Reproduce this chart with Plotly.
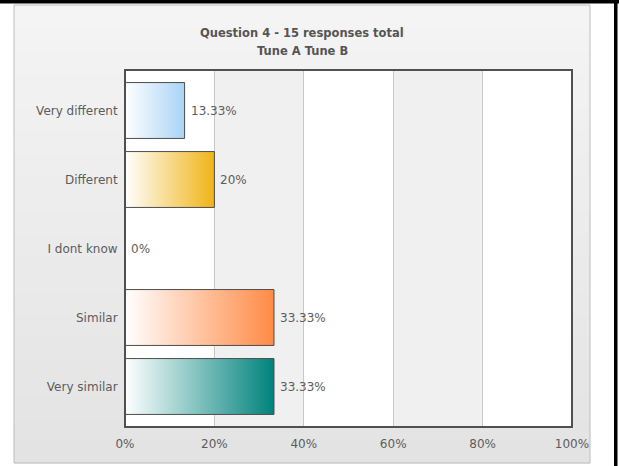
import plotly.graph_objects as go

# Survey results for question 4
categories = ["Very different", "Different", "I dont know", "Similar", "Very similar"]
percentages = [13.33, 20, 0, 33.33, 33.33]
value_labels = ["13.33%", "20%", "0%", "33.33%", "33.33%"]
bar_colors = ["#a9d3f5", "#f0b416", "#ffffff", "#ff8a45", "#00827c"]
x_ticks = [0, 20, 40, 60, 80, 100]
x_tick_labels = ["0%", "20%", "40%", "60%", "80%", "100%"]
title_lines = ["Question 4 - 15 responses total", "Tune A Tune B"]

W, H = 619, 466
L, R, T, B = 125, 572, 70, 427      # plot area in pixels
BAR_HALF = 0.405                     # half bar thickness in category units
TEXT_FONT = "DejaVu Sans, Verdana, sans-serif"
TEXT_COLOR = "#5c5c5c"
TEXT_SIZE = 12


def px_x(p):
    return (p - L) / (R - L)


def px_y(p):
    return (B - p) / (B - T)


fig = go.Figure()

# Horizontal bars drawn as filled polygons so each can carry a left-to-right gradient
for i, (cat, val, col) in enumerate(zip(categories, percentages, bar_colors)):
    y0, y1 = i - BAR_HALF, i + BAR_HALF
    if val <= 0:
        continue
    fig.add_trace(go.Scatter(
        x=[0, val, val, 0, 0],
        y=[y0, y0, y1, y1, y0],
        mode="lines",
        fill="toself",
        fillgradient=dict(
            type="horizontal",
            colorscale=[[0, "#ffffff"], [1, col]],
            start=0,
            stop=val,
        ),
        line=dict(color="#4d4d4d", width=1),
        hoverinfo="skip",
        showlegend=False,
        name=cat,
    ))

shapes = []

# Outer panel with a soft vertical gray gradient
panel_x0, panel_x1, panel_y0, panel_y1 = 14, 590, 5, 463
n_bands = 40
top_rgb, bot_rgb = (244, 244, 244), (227, 227, 227)
for k in range(n_bands):
    f = k / (n_bands - 1)
    c = tuple(round(a + (b - a) * f) for a, b in zip(top_rgb, bot_rgb))
    ya = panel_y0 + (panel_y1 - panel_y0) * k / n_bands
    yb = panel_y0 + (panel_y1 - panel_y0) * (k + 1) / n_bands + 0.6
    shapes.append(dict(
        type="rect", xref="paper", yref="paper", layer="below",
        x0=px_x(panel_x0), x1=px_x(panel_x1), y0=px_y(yb), y1=px_y(ya),
        fillcolor="rgb(%d,%d,%d)" % c, line=dict(width=0),
    ))
shapes.append(dict(
    type="rect", xref="paper", yref="paper", layer="below",
    x0=px_x(panel_x0), x1=px_x(panel_x1), y0=px_y(panel_y1), y1=px_y(panel_y0),
    fillcolor="rgba(0,0,0,0)", line=dict(color="#bdbdbd", width=1),
))

# Alternating column bands inside the plot area
for idx, (a, b) in enumerate(zip(x_ticks[:-1], x_ticks[1:])):
    shapes.append(dict(
        type="rect", xref="x", yref="paper", layer="below",
        x0=a, x1=b, y0=0, y1=1,
        fillcolor="#ffffff" if idx % 2 == 0 else "#f0f0f0",
        line=dict(width=0),
    ))

# Plot area frame
shapes.append(dict(
    type="rect", xref="paper", yref="paper", layer="above",
    x0=0, x1=1, y0=0, y1=1,
    fillcolor="rgba(0,0,0,0)", line=dict(color="#505050", width=2),
))

# Black page border at top and right
shapes.append(dict(
    type="rect", xref="paper", yref="paper", layer="above",
    x0=px_x(0), x1=px_x(W), y0=px_y(3.5), y1=px_y(0),
    fillcolor="#000000", line=dict(width=0),
))
shapes.append(dict(
    type="rect", xref="paper", yref="paper", layer="above",
    x0=px_x(614), x1=px_x(617.5), y0=px_y(H), y1=px_y(0),
    fillcolor="#000000", line=dict(width=0),
))

annotations = []
# Value labels to the right of each bar
for i, (val, lab) in enumerate(zip(percentages, value_labels)):
    annotations.append(dict(
        x=val, y=i, xref="x", yref="y", text=lab, showarrow=False,
        xanchor="left", yanchor="middle", xshift=4,
        font=dict(family=TEXT_FONT, size=TEXT_SIZE, color=TEXT_COLOR),
    ))

# Two-line bold title
for line, ypx in zip(title_lines, [33, 51]):
    annotations.append(dict(
        x=px_x(302), y=px_y(ypx), xref="paper", yref="paper", text="<b>%s</b>" % line,
        showarrow=False, xanchor="center", yanchor="middle",
        font=dict(family="DejaVu Sans, Verdana, sans-serif", size=11.5, color="#555555"),
    ))

fig.update_layout(
    width=W, height=H,
    margin=dict(l=L, r=W - R, t=T, b=H - B, pad=0),
    paper_bgcolor="#ffffff",
    plot_bgcolor="rgba(0,0,0,0)",
    shapes=shapes,
    annotations=annotations,
    showlegend=False,
    xaxis=dict(
        range=[0, 100], tickvals=x_ticks, ticktext=x_tick_labels,
        showgrid=True, gridcolor="#c8c8c8", gridwidth=1,
        zeroline=False, showline=False,
        ticks="outside", ticklen=6, tickcolor="rgba(0,0,0,0)",
        tickfont=dict(family=TEXT_FONT, size=TEXT_SIZE, color=TEXT_COLOR),
        fixedrange=True,
    ),
    yaxis=dict(
        range=[4.587, -0.587], tickvals=list(range(len(categories))), ticktext=categories,
        showgrid=False, zeroline=False, showline=False,
        ticks="outside", ticklen=4, tickcolor="rgba(0,0,0,0)",
        tickfont=dict(family=TEXT_FONT, size=TEXT_SIZE, color=TEXT_COLOR),
        fixedrange=True,
    ),
)

fig.write_html("out.html")
